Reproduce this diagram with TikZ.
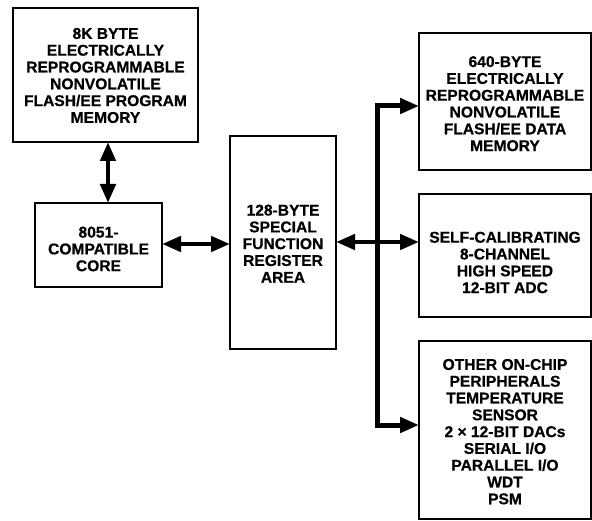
\documentclass[tikz,border=0pt]{standalone}
\usepackage{fontspec}
\setmainfont{Liberation Sans}[BoldFeatures={FakeBold=0.6}]
\usetikzlibrary{arrows.meta}
\begin{document}
\begin{tikzpicture}[x=1pt,y=-1pt,
  box/.style={draw, line width=1.3pt, inner sep=0pt, outer sep=0pt},
  txt/.style={align=center, font=\fontsize{15.6pt}{16.8pt}\selectfont\bfseries, inner sep=0pt},
  dbl/.style={line width=4.5pt, {Triangle[length=19pt,width=15pt]}-{Triangle[length=19pt,width=15pt]}},
  bus/.style={line width=5pt, line join=miter, {Triangle[length=19pt,width=15pt]}-{Triangle[length=19pt,width=15pt]}}]
\useasboundingbox (0,0) rectangle (592,521);
% boxes
\node[box, minimum width=185pt, minimum height=134pt] (pm) at (105.5,75) {};
\node[box, minimum width=127pt, minimum height=84pt] (core) at (98.5,245) {};
\node[box, minimum width=106pt, minimum height=213pt] (sfr) at (283,242.5) {};
\node[box, minimum width=172pt, minimum height=137pt] (dm) at (505,101.5) {};
\node[box, minimum width=172pt, minimum height=123pt] (adc) at (505,255.5) {};
\node[box, minimum width=172pt, minimum height=178pt] (oth) at (505,430) {};
% texts
\node[txt] (pmt) at (105.5,75.5) {8K BYTE\\ELECTRICALLY\\REPROGRAMMABLE\\NONVOLATILE\\FLASH/EE PROGRAM\\MEMORY};
\node[txt] (coret) at (98.5,249) {8051-\\COMPATIBLE\\CORE};
\node[txt] (sfrt) at (283,243.7) {128-BYTE\\SPECIAL\\FUNCTION\\REGISTER\\AREA};
\node[txt] (dmt) at (505,103.7) {640-BYTE\\ELECTRICALLY\\REPROGRAMMABLE\\NONVOLATILE\\FLASH/EE DATA\\MEMORY};
\node[txt] (adct) at (505,262.5) {SELF-CALIBRATING\\8-CHANNEL\\HIGH SPEED\\12-BIT ADC};
\node[txt] (otht) at (505,431.7) {OTHER ON-CHIP\\PERIPHERALS\\TEMPERATURE\\SENSOR\\2 × 12-BIT DACs\\SERIAL I/O\\PARALLEL I/O\\WDT\\PSM};
% connectors
\coordinate (ax) at (108,0);
\coordinate (ay1) at (0,244);
\coordinate (ay2) at (0,242);
\coordinate (bt) at (377,106);
\coordinate (bb) at (377,425);
\draw[dbl] (pm.south -| ax) -- (core.north -| ax);
\draw[dbl] (core.east |- ay1) -- (sfr.west |- ay1);
\draw[bus] (dm.west |- bt) -- (bt) -- (bb) -- (oth.west |- bb);
\draw[dbl] (sfr.east |- ay2) -- (adc.west |- ay2);
\end{tikzpicture}
\end{document}
